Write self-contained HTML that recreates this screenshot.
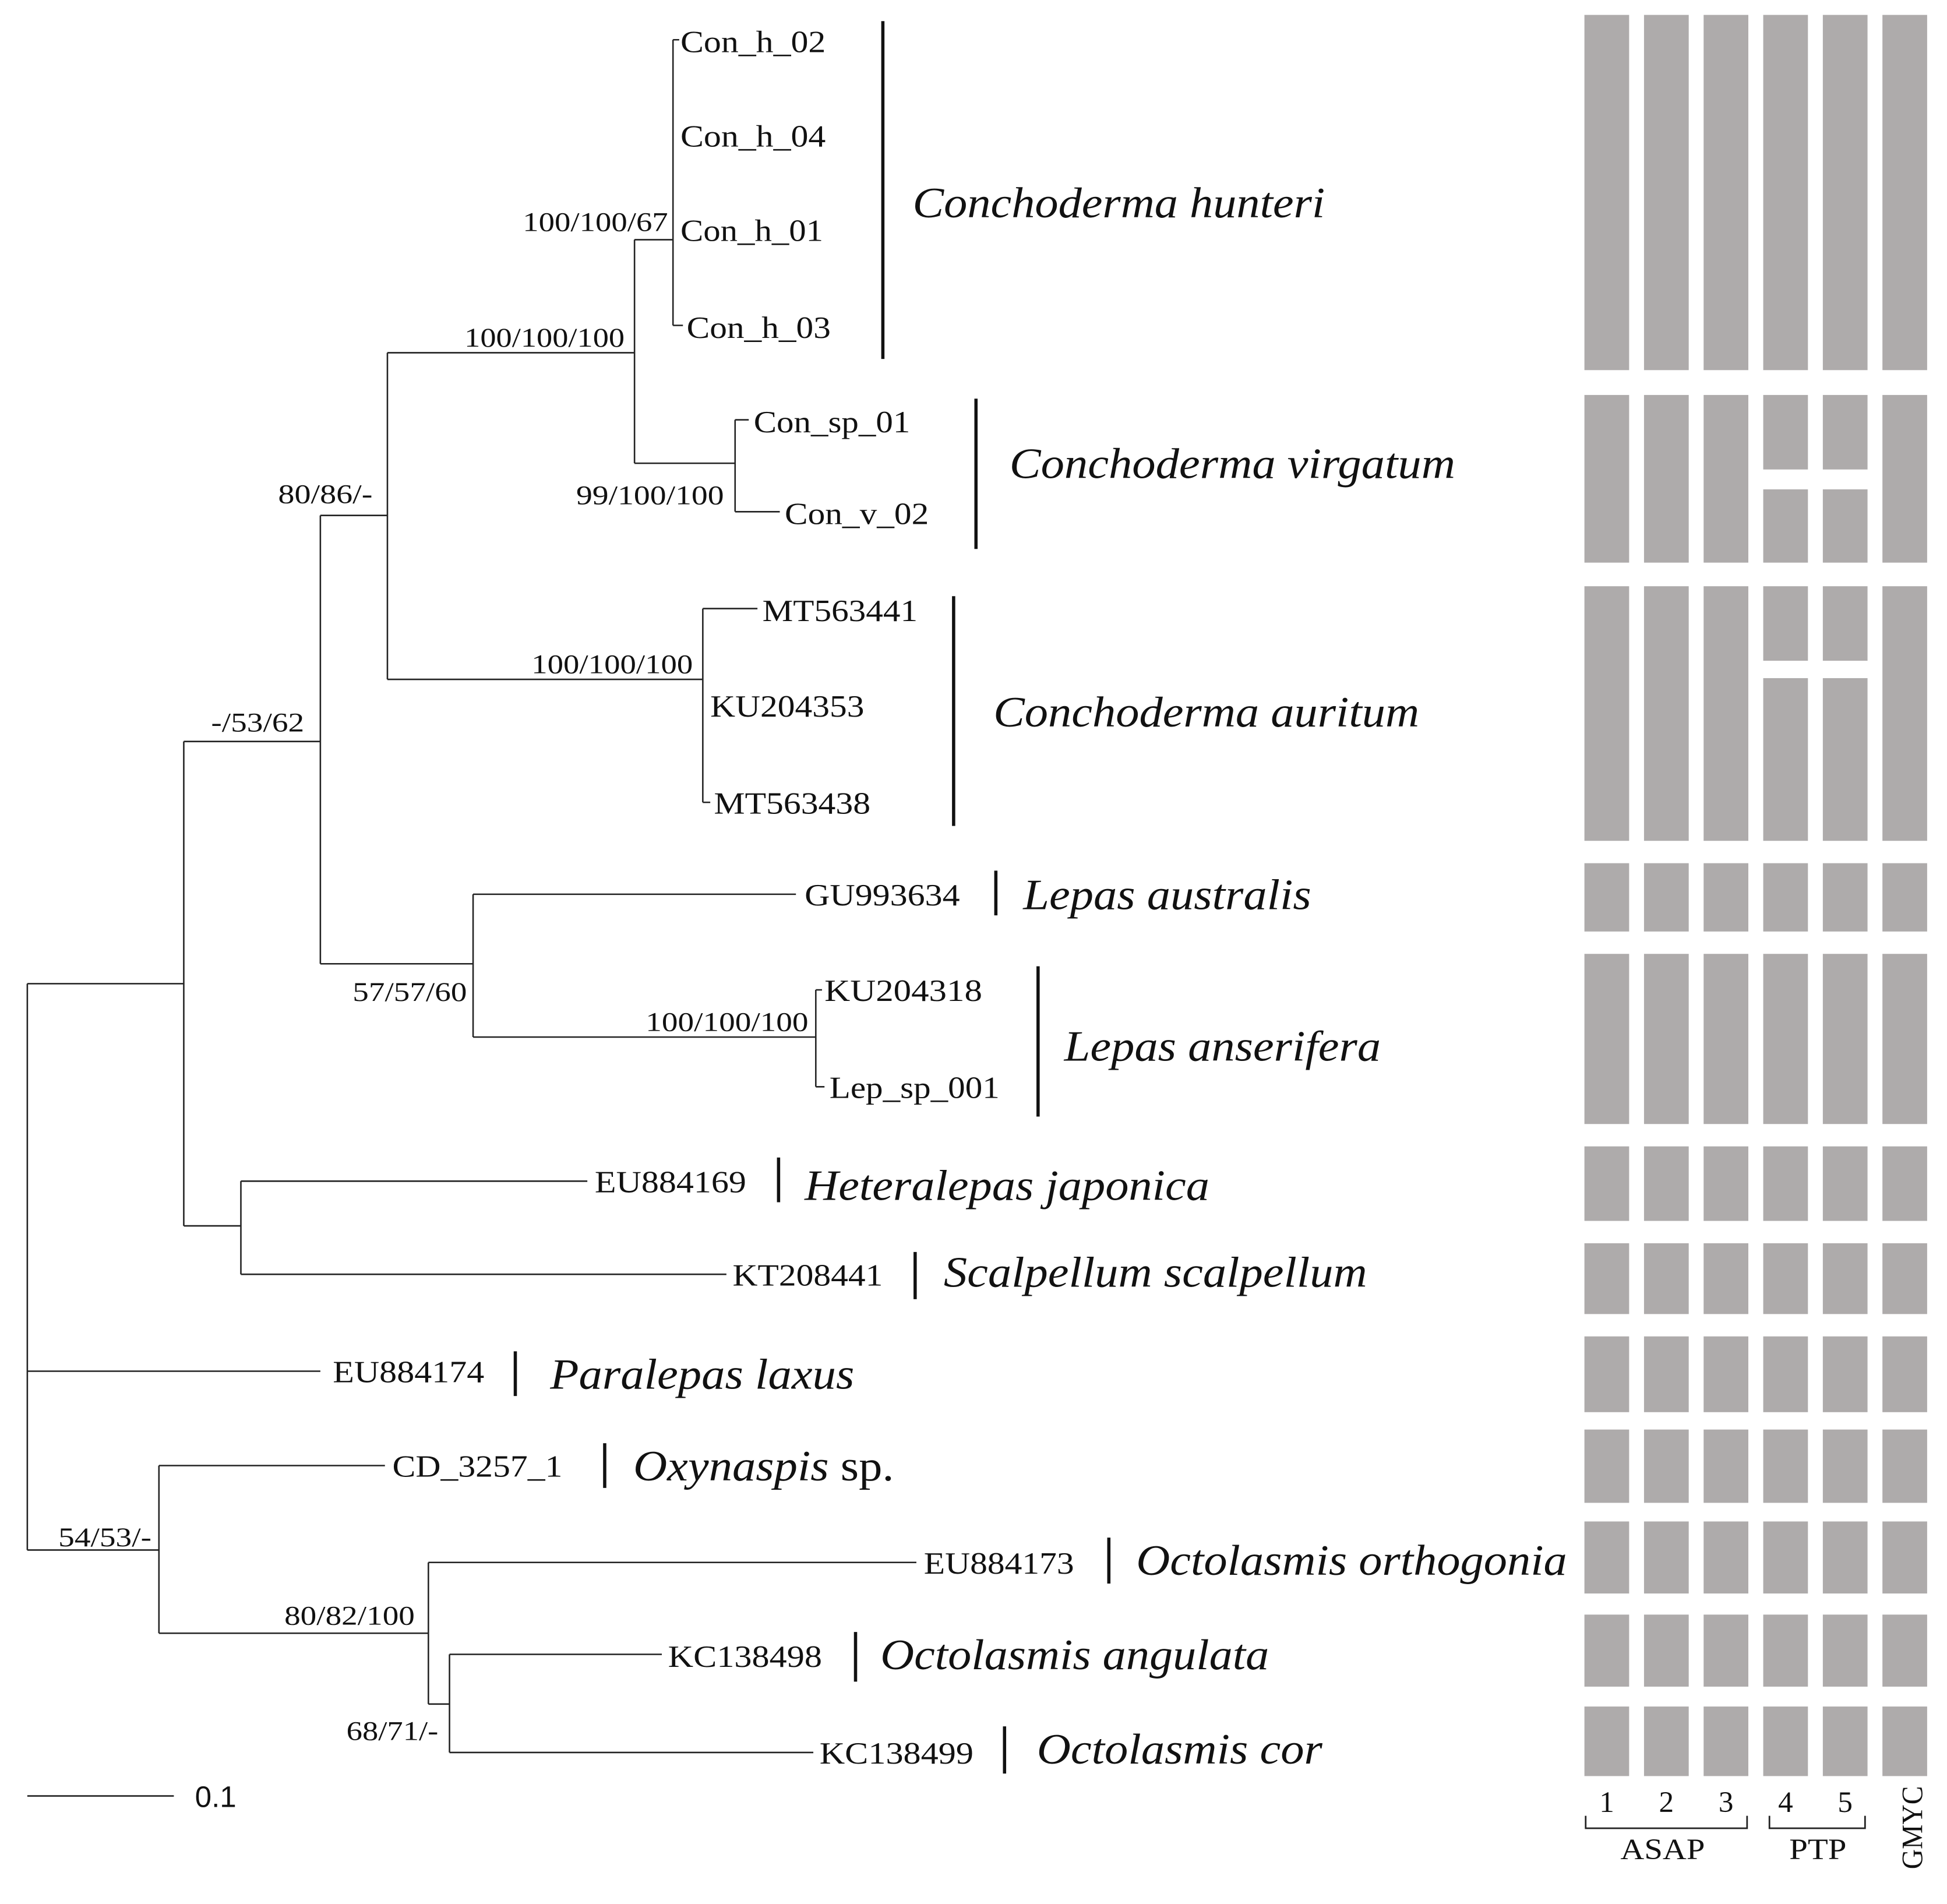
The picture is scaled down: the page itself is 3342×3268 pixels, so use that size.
<!DOCTYPE html>
<html><head><meta charset="utf-8"><style>
html,body{margin:0;padding:0;background:#fff}
svg{display:block}
text{font-family:"Liberation Serif",serif;fill:#111}
.t{font-size:25px}
.s{font-size:22px}
.sp{font-size:35px;font-style:italic}
</style></head><body>
<svg width="3342" height="3268" viewBox="0 0 1568 1533" preserveAspectRatio="none" xmlns="http://www.w3.org/2000/svg">
<g stroke="#222" stroke-width="1.2" fill="none">
<path d="M22 792V1248M22 792H148M22 1104H258M22 1248H128"/>
<path d="M148 597V987M148 597H258M148 987H194"/>
<path d="M194 951V1026M194 951H473M194 1026H585"/>
<path d="M258 415V776M258 415H312M258 776H381"/>
<path d="M312 284V547M312 284H511M312 547H566"/>
<path d="M511 193V373M511 193H542M511 373H592"/>
<path d="M542 32V262M542 32H547M542 262H550"/>
<path d="M592 338V412M592 338H603M592 412H628"/>
<path d="M566 490V646M566 490H610M566 646H572"/>
<path d="M381 720V835M381 720H641M381 835H657"/>
<path d="M657 797V875M657 797H662M657 875H664"/>
<path d="M128 1180V1315M128 1180H310M128 1315H345"/>
<path d="M345 1258V1372M345 1258H738M345 1372H362"/>
<path d="M362 1332V1411M362 1332H533M362 1411H655"/>
<path d="M22 1446H140"/>
</g>
<g stroke="#111" stroke-width="2.6">
<path d="M711 17V289M786 321V442M768 480V665M802 701V737M836 778V899M627 932V968M737 1008V1046M415 1088V1124M487 1162V1198M893 1238V1275M689 1314V1354M809 1390V1428"/>
</g>
<text x="157" y="1455" style="font-family:'Liberation Sans',sans-serif;font-size:24px">0.1</text>
<g class="t">
<text x="548" y="42" textLength="117" lengthAdjust="spacingAndGlyphs">Con_h_02</text>
<text x="548" y="118" textLength="117" lengthAdjust="spacingAndGlyphs">Con_h_04</text>
<text x="548" y="194" textLength="115" lengthAdjust="spacingAndGlyphs">Con_h_01</text>
<text x="553" y="272" textLength="116" lengthAdjust="spacingAndGlyphs">Con_h_03</text>
<text x="607" y="348" textLength="126" lengthAdjust="spacingAndGlyphs">Con_sp_01</text>
<text x="632" y="422" textLength="116" lengthAdjust="spacingAndGlyphs">Con_v_02</text>
<text x="614" y="500" textLength="125" lengthAdjust="spacingAndGlyphs">MT563441</text>
<text x="572" y="577" textLength="124" lengthAdjust="spacingAndGlyphs">KU204353</text>
<text x="575" y="655" textLength="126" lengthAdjust="spacingAndGlyphs">MT563438</text>
<text x="648" y="729" textLength="125" lengthAdjust="spacingAndGlyphs">GU993634</text>
<text x="664" y="806" textLength="127" lengthAdjust="spacingAndGlyphs">KU204318</text>
<text x="668" y="884" textLength="137" lengthAdjust="spacingAndGlyphs">Lep_sp_001</text>
<text x="479" y="960" textLength="122" lengthAdjust="spacingAndGlyphs">EU884169</text>
<text x="590" y="1035" textLength="121" lengthAdjust="spacingAndGlyphs">KT208441</text>
<text x="268" y="1113" textLength="122" lengthAdjust="spacingAndGlyphs">EU884174</text>
<text x="316" y="1189" textLength="137" lengthAdjust="spacingAndGlyphs">CD_3257_1</text>
<text x="744" y="1267" textLength="121" lengthAdjust="spacingAndGlyphs">EU884173</text>
<text x="538" y="1342" textLength="124" lengthAdjust="spacingAndGlyphs">KC138498</text>
<text x="660" y="1420" textLength="124" lengthAdjust="spacingAndGlyphs">KC138499</text>
</g>
<g class="s">
<text x="421" y="186" textLength="117" lengthAdjust="spacingAndGlyphs">100/100/67</text>
<text x="374" y="279" textLength="129" lengthAdjust="spacingAndGlyphs">100/100/100</text>
<text x="224" y="405" textLength="76" lengthAdjust="spacingAndGlyphs">80/86/-</text>
<text x="464" y="406" textLength="119" lengthAdjust="spacingAndGlyphs">99/100/100</text>
<text x="428" y="542" textLength="130" lengthAdjust="spacingAndGlyphs">100/100/100</text>
<text x="170" y="589" textLength="75" lengthAdjust="spacingAndGlyphs">-/53/62</text>
<text x="284" y="806" textLength="92" lengthAdjust="spacingAndGlyphs">57/57/60</text>
<text x="520" y="830" textLength="131" lengthAdjust="spacingAndGlyphs">100/100/100</text>
<text x="47" y="1245" textLength="75" lengthAdjust="spacingAndGlyphs">54/53/-</text>
<text x="229" y="1308" textLength="105" lengthAdjust="spacingAndGlyphs">80/82/100</text>
<text x="279" y="1401" textLength="74" lengthAdjust="spacingAndGlyphs">68/71/-</text>
</g>
<g class="sp">
<text x="735" y="175" textLength="332" lengthAdjust="spacingAndGlyphs">Conchoderma hunteri</text>
<text x="813" y="385" textLength="359" lengthAdjust="spacingAndGlyphs">Conchoderma virgatum</text>
<text x="800" y="585" textLength="343" lengthAdjust="spacingAndGlyphs">Conchoderma auritum</text>
<text x="824" y="732" textLength="232" lengthAdjust="spacingAndGlyphs">Lepas australis</text>
<text x="857" y="854" textLength="255" lengthAdjust="spacingAndGlyphs">Lepas anserifera</text>
<text x="648" y="966" textLength="326" lengthAdjust="spacingAndGlyphs">Heteralepas japonica</text>
<text x="760" y="1036" textLength="341" lengthAdjust="spacingAndGlyphs">Scalpellum scalpellum</text>
<text x="443" y="1118" textLength="245" lengthAdjust="spacingAndGlyphs">Paralepas laxus</text>
<text x="510" y="1192" textLength="210" lengthAdjust="spacingAndGlyphs">Oxynaspis <tspan font-style="normal">sp.</tspan></text>
<text x="915" y="1268" textLength="347" lengthAdjust="spacingAndGlyphs">Octolasmis orthogonia</text>
<text x="709" y="1344" textLength="313" lengthAdjust="spacingAndGlyphs">Octolasmis angulata</text>
<text x="835" y="1420" textLength="230" lengthAdjust="spacingAndGlyphs">Octolasmis cor</text>
</g>
<g fill="#aeabab">
<g id="c1">
<rect x="1276" y="12" width="36" height="286"/><rect x="1276" y="318" width="36" height="135"/><rect x="1276" y="472" width="36" height="205"/>
<rect x="1276" y="695" width="36" height="55"/><rect x="1276" y="768" width="36" height="137"/><rect x="1276" y="923" width="36" height="60"/>
<rect x="1276" y="1001" width="36" height="57"/><rect x="1276" y="1076" width="36" height="61"/><rect x="1276" y="1151" width="36" height="59"/>
<rect x="1276" y="1225" width="36" height="58"/><rect x="1276" y="1300" width="36" height="58"/><rect x="1276" y="1374" width="36" height="56"/>
</g>
<use href="#c1" x="48"/><use href="#c1" x="96"/><use href="#c1" x="240"/>
<g id="c4">
<rect x="1420" y="12" width="36" height="286"/><rect x="1420" y="318" width="36" height="60"/><rect x="1420" y="394" width="36" height="59"/>
<rect x="1420" y="472" width="36" height="60"/><rect x="1420" y="546" width="36" height="131"/>
<rect x="1420" y="695" width="36" height="55"/><rect x="1420" y="768" width="36" height="137"/><rect x="1420" y="923" width="36" height="60"/>
<rect x="1420" y="1001" width="36" height="57"/><rect x="1420" y="1076" width="36" height="61"/><rect x="1420" y="1151" width="36" height="59"/>
<rect x="1420" y="1225" width="36" height="58"/><rect x="1420" y="1300" width="36" height="58"/><rect x="1420" y="1374" width="36" height="56"/>
</g>
<use href="#c4" x="48"/>
</g>
<g style="font-size:24px">
<text x="1288" y="1459">1</text><text x="1336" y="1459">2</text><text x="1384" y="1459">3</text>
<text x="1432" y="1459">4</text><text x="1480" y="1459">5</text>
<text x="1305" y="1497" textLength="68" lengthAdjust="spacingAndGlyphs">ASAP</text><text x="1441" y="1497" textLength="46" lengthAdjust="spacingAndGlyphs">PTP</text>
<text transform="translate(1548,1505) rotate(-90)" textLength="67" lengthAdjust="spacingAndGlyphs">GMYC</text>
</g>
<g stroke="#222" stroke-width="1.3" fill="none">
<path d="M1277 1462V1472H1407V1462M1425 1462V1472H1502V1462"/>
</g>
</svg>
</body></html>
